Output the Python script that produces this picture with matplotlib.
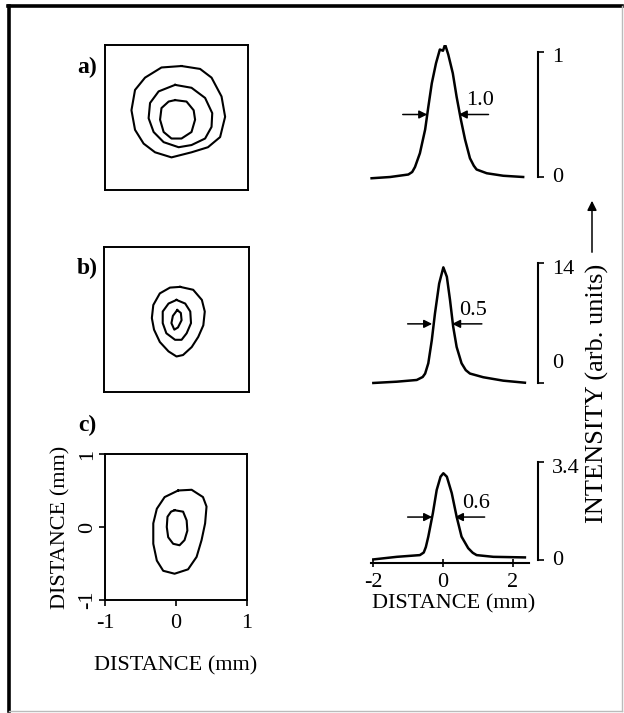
import matplotlib
matplotlib.use('Agg')
import matplotlib.pyplot as plt
from matplotlib import transforms
from matplotlib.lines import Line2D
from matplotlib.patches import FancyArrowPatch

plt.rcParams['font.family'] = ['Liberation Serif', 'DejaVu Serif']

# ---------------- data ----------------
panel_labels = ['a)', 'b)', 'c)']

# contour lines (mm), outer -> inner
a_outer_x = [0.07, 0.33, 0.49, 0.63, 0.68, 0.61, 0.44, 0.21, -0.07, -0.30, -0.46, -0.58, -0.63, -0.58, -0.44, -0.21]
a_outer_y = [0.71, 0.67, 0.55, 0.29, 0.01, -0.27, -0.41, -0.48, -0.55, -0.48, -0.36, -0.17, 0.10, 0.38, 0.55, 0.69]
a_mid_x = [-0.02, 0.21, 0.40, 0.50, 0.49, 0.40, 0.21, 0.03, -0.18, -0.32, -0.39, -0.37, -0.25]
a_mid_y = [0.45, 0.41, 0.27, 0.06, -0.13, -0.29, -0.38, -0.41, -0.34, -0.20, -0.01, 0.20, 0.36]
a_in_x = [-0.02, 0.14, 0.24, 0.26, 0.21, 0.07, -0.07, -0.18, -0.23, -0.21, -0.11]
a_in_y = [0.24, 0.22, 0.10, -0.03, -0.20, -0.29, -0.29, -0.20, -0.03, 0.13, 0.22]

b_outer_x = [0.05, 0.23, 0.35, 0.39, 0.37, 0.30, 0.21, 0.09, 0.00, -0.11, -0.23, -0.31, -0.34, -0.32, -0.23, -0.09]
b_outer_y = [0.45, 0.41, 0.27, 0.11, -0.08, -0.24, -0.38, -0.49, -0.51, -0.44, -0.31, -0.14, 0.02, 0.20, 0.36, 0.44]
b_mid_x = [0.00, 0.12, 0.19, 0.20, 0.14, 0.07, -0.02, -0.14, -0.19, -0.19, -0.11]
b_mid_y = [0.27, 0.22, 0.11, -0.05, -0.19, -0.28, -0.28, -0.19, -0.05, 0.11, 0.22]
b_in_x = [0.01, 0.06, 0.07, 0.02, -0.03, -0.07, -0.05]
b_in_y = [0.13, 0.09, -0.01, -0.11, -0.14, -0.05, 0.05]

c_outer_x = [0.03, 0.22, 0.38, 0.43, 0.41, 0.36, 0.29, 0.17, -0.02, -0.18, -0.27, -0.32, -0.32, -0.27, -0.16]
c_outer_y = [0.50, 0.51, 0.41, 0.28, 0.05, -0.18, -0.41, -0.58, -0.64, -0.60, -0.46, -0.23, 0.05, 0.25, 0.41]
c_in_x = [-0.02, 0.10, 0.15, 0.16, 0.12, 0.05, -0.04, -0.11, -0.13, -0.12, -0.07]
c_in_y = [0.23, 0.21, 0.09, -0.05, -0.18, -0.25, -0.23, -0.14, 0.00, 0.14, 0.21]

contours = [
    [(a_outer_x, a_outer_y), (a_mid_x, a_mid_y), (a_in_x, a_in_y)],
    [(b_outer_x, b_outer_y), (b_mid_x, b_mid_y), (b_in_x, b_in_y)],
    [(c_outer_x, c_outer_y), (c_in_x, c_in_y)],
]

map_ticks = [-1, 0, 1]
map_ticklabels = ['-1', '0', '1']

# intensity profiles (mm, arb. units)
prof_a_x = [-2.04, -1.51, -0.99, -0.88, -0.80, -0.66, -0.51, -0.42, -0.32, -0.20, -0.09, 0.00, 0.06, 0.15, 0.28, 0.39, 0.51, 0.63, 0.77, 0.88, 0.96, 1.25, 1.72, 2.29]
prof_a_y = [-0.01, 0.00, 0.02, 0.04, 0.08, 0.19, 0.38, 0.56, 0.75, 0.91, 1.02, 1.01, 1.06, 0.98, 0.83, 0.64, 0.46, 0.30, 0.15, 0.09, 0.06, 0.03, 0.01, 0.00]
prof_b_x = [-1.99, -1.32, -0.75, -0.58, -0.51, -0.42, -0.32, -0.23, -0.11, 0.01, 0.11, 0.20, 0.29, 0.39, 0.53, 0.65, 0.77, 1.15, 1.72, 2.34]
prof_b_y = [0.00, 0.15, 0.35, 0.7, 1.1, 2.3, 5.0, 8.1, 11.6, 13.5, 12.4, 9.7, 6.6, 4.2, 2.3, 1.5, 1.1, 0.67, 0.27, 0.03]
prof_c_x = [-1.99, -1.32, -0.66, -0.55, -0.49, -0.42, -0.29, -0.18, -0.07, 0.01, 0.11, 0.25, 0.39, 0.53, 0.72, 0.85, 0.96, 1.44, 2.34]
prof_c_y = [0.02, 0.11, 0.17, 0.26, 0.45, 0.81, 1.62, 2.43, 2.89, 3.01, 2.89, 2.32, 1.50, 0.81, 0.41, 0.25, 0.17, 0.11, 0.09]

profiles = [(prof_a_x, prof_a_y), (prof_b_x, prof_b_y), (prof_c_x, prof_c_y)]
scale_max = [1, 14, 3.4]
scale_labels = [('0', '1'), ('0', '14'), ('0', '3.4')]
fwhm_labels = ['1.0', '0.5', '0.6']
fwhm_left = [-0.45, -0.31, -0.31]
fwhm_right = [0.45, 0.26, 0.34]
fwhm_level = [0.50, 6.9, 1.49]
prof_ticks = [-2, 0, 2]
prof_ticklabels = ['-2', '0', '2']

# ---------------- layout ----------------
W, H = 624, 713
fig = plt.figure(figsize=(W / 100, H / 100), dpi=100)


def rect(x0, y0, x1, y1):
    return [x0 / W, 1 - y1 / H, (x1 - x0) / W, (y1 - y0) / H]


FS = 16
map_rects = [(105, 45, 248, 190), (104, 247, 249, 392), (105, 454, 247, 600)]
label_pos = [(87, 67), (87, 268), (87, 425)]

for i, r in enumerate(map_rects):
    ax = fig.add_axes(rect(*r))
    for cx, cy in contours[i]:
        ax.plot(list(cx) + [cx[0]], list(cy) + [cy[0]], color='black', lw=1.5,
                solid_joinstyle='round')
    ax.set_xlim(-1, 1)
    ax.set_ylim(-1, 1)
    for s in ax.spines.values():
        s.set_linewidth(1.4)
    if i < 2:
        ax.set_xticks([])
        ax.set_yticks([])
    else:
        ax.set_xticks(map_ticks)
        ax.set_yticks(map_ticks)
        ax.set_xticklabels(map_ticklabels, fontsize=FS)
        ax.set_yticklabels(map_ticklabels, fontsize=FS, rotation=90, va='center')
        ax.tick_params(axis='x', direction='out', length=4, width=1.2, pad=6)
        ax.tick_params(axis='y', direction='out', length=4, width=1.2, pad=2)
        ax.set_xlabel('DISTANCE (mm)', fontsize=FS, labelpad=17)
        ax.set_ylabel('DISTANCE (mm)', fontsize=FS, labelpad=5)
    fig.text(label_pos[i][0] / W, 1 - label_pos[i][1] / H, panel_labels[i],
             fontsize=FS + 1, fontweight='bold', ha='center', va='center')

# profile axes: px = 443 + 35*x
x_lo, x_hi = (369.5 - 443) / 35, (538 - 443) / 35
prof_rects = [(369.5, 45, 538, 185), (369.5, 255, 538, 390), (369.5, 455, 538, 563)]
prof_ylims = [(-0.064, 1.056), (-0.82, 14.94), (-0.104, 3.643)]
zero_offsets = [0, 19, 0]

for i, r in enumerate(prof_rects):
    ax = fig.add_axes(rect(*r))
    ax.patch.set_alpha(0)
    px, py = profiles[i]
    ax.plot(px, py, color='black', lw=1.8, solid_joinstyle='round')
    ax.set_xlim(x_lo, x_hi)
    ax.set_ylim(*prof_ylims[i])
    ax.spines['top'].set_visible(False)
    ax.spines['left'].set_visible(False)
    ax.spines['right'].set_bounds(0, scale_max[i])
    ax.spines['right'].set_linewidth(1.5)
    ax.yaxis.tick_right()
    ax.set_yticks([0, scale_max[i]])
    ax.tick_params(axis='y', direction='out', length=4, width=1.2, labelright=False)
    tr = transforms.blended_transform_factory(ax.transAxes, ax.transData)
    lo, hi = scale_labels[i]
    ax.text(1.085, 0, lo, transform=tr + transforms.ScaledTranslation(0, zero_offsets[i] / 100, fig.dpi_scale_trans),
            fontsize=FS, ha='left', va='center')
    ax.text(1.085, scale_max[i], hi, transform=tr + transforms.ScaledTranslation(0, -6 / 100, fig.dpi_scale_trans),
            fontsize=FS, ha='left', va='center')
    if i < 2:
        ax.spines['bottom'].set_visible(False)
        ax.set_xticks([])
    else:
        ax.spines['bottom'].set_bounds(-2.05, 2.45)
        ax.spines['bottom'].set_linewidth(1.5)
        ax.set_xticks(prof_ticks)
        ax.set_xticklabels(prof_ticklabels, fontsize=FS)
        ax.tick_params(axis='x', direction='inout', length=6, width=1.2, pad=4)
        ax.set_xlabel('DISTANCE (mm)', fontsize=FS, labelpad=2)
    # FWHM arrows
    lvl = fwhm_level[i]
    ax.annotate('', xy=(fwhm_left[i], lvl), xytext=(fwhm_left[i] - 0.7, lvl),
                arrowprops=dict(arrowstyle='-|>', color='black', lw=1.1, mutation_scale=12, shrinkA=0, shrinkB=0))
    ax.annotate('', xy=(fwhm_right[i], lvl), xytext=(fwhm_right[i] + 0.85, lvl),
                arrowprops=dict(arrowstyle='-|>', color='black', lw=1.1, mutation_scale=12, shrinkA=0, shrinkB=0))
    ax.annotate(fwhm_labels[i], xy=(fwhm_right[i] + 0.6, lvl), xytext=(0, 3), textcoords='offset points',
                fontsize=FS, ha='center', va='bottom')

# intensity label with arrow
fig.text(597 / W, 1 - 393 / H, 'INTENSITY (arb. units)', rotation=90, fontsize=19,
         ha='center', va='center')
fig.add_artist(FancyArrowPatch((592 / W, 1 - 255 / H), (592 / W, 1 - 198 / H), transform=fig.transFigure,
                               arrowstyle='-|>', mutation_scale=14, lw=1.1, color='black'))

# outer frame
fig.add_artist(Line2D([9 / W, 9 / W], [1 - 711 / H, 1 - 6 / H], transform=fig.transFigure, color='black', lw=2.6))
fig.add_artist(Line2D([8 / W, 622 / W], [1 - 6 / H, 1 - 6 / H], transform=fig.transFigure, color='black', lw=2.6))
fig.add_artist(Line2D([622 / W, 622 / W], [1 - 6 / H, 1 - 711 / H], transform=fig.transFigure, color='#bbbbbb', lw=1.0))
fig.add_artist(Line2D([9 / W, 622 / W], [1 - 711 / H, 1 - 711 / H], transform=fig.transFigure, color='#bbbbbb', lw=1.0))

fig.savefig('out.png', dpi=100)
